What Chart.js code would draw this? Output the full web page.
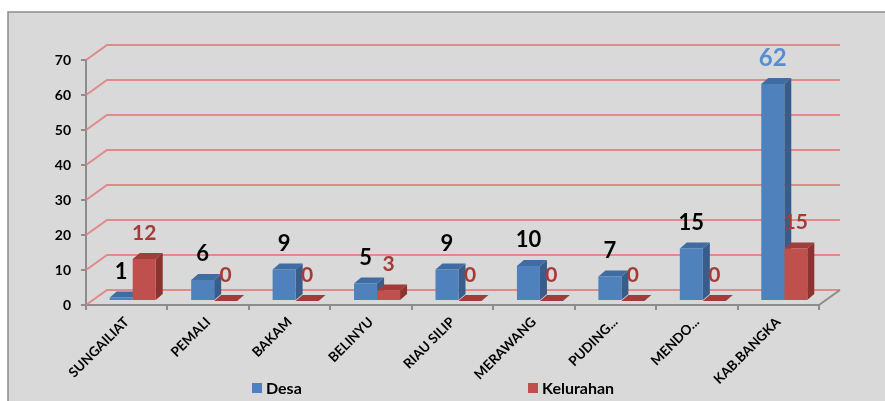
<!DOCTYPE html>
<html>
<head>
<meta charset="utf-8">
<script src="https://cdn.jsdelivr.net/npm/chart.js@4.4.0/dist/chart.umd.min.js"></script>
<style>
html,body{margin:0;padding:0;background:#fff;}
</style>
</head>
<body>
<canvas id="myChart" width="885" height="401"></canvas>
<script>
var kecamatan = ['SUNGAILIAT','PEMALI','BAKAM','BELINYU','RIAU SILIP','MERAWANG','PUDING...','MENDO...','KAB.BANGKA'];
var desa = [1, 6, 9, 5, 9, 10, 7, 15, 62];
var kelurahan = [12, 0, 0, 3, 0, 0, 0, 0, 15];
var seriesNames = ['Desa', 'Kelurahan'];
var yMin = 0, yMax = 70, yStep = 10;

var FONT = 'Lato, "Liberation Sans", sans-serif';
// depth of the bars and of the back wall
var DX = 7, DY = -6;
var SX = 6, SY = -4;
var WX = 21, WY = -15;

function poly(c, pts){
	c.beginPath();
	c.moveTo(pts[0][0], pts[0][1]);
	for(var i = 1; i < pts.length; i++) c.lineTo(pts[i][0], pts[i][1]);
	c.closePath();
	c.fill();
}

var background = {
	id: 'background',
	beforeDraw: function(chart){
		var c = chart.ctx;
		c.save();
		c.fillStyle = '#fff';
		c.fillRect(0, 0, chart.width, chart.height);
		c.fillStyle = '#d9d9d9';
		c.fillRect(8, 12, chart.width, chart.height);
		c.strokeStyle = '#8c8c8c';
		c.lineWidth = 1.5;
		c.beginPath();
		c.moveTo(8, chart.height); c.lineTo(8, 12); c.lineTo(chart.width, 12);
		c.stroke();
		c.restore();
	}
};

var wallAndFaces = {
	id: 'wallAndFaces',
	beforeDatasetsDraw: function(chart){
		var c = chart.ctx, y = chart.scales.y, a = chart.chartArea;
		c.save();
		c.strokeStyle = 'rgba(226,128,128,0.9)';
		c.lineWidth = 2;
		y.ticks.forEach(function(t){
			var py = y.getPixelForValue(t.value);
			c.beginPath();
			c.moveTo(a.left, py);
			c.lineTo(a.left + WX, py + WY);
			c.lineTo(a.right + WX, py + WY);
			c.stroke();
		});
		c.strokeStyle = '#8c8c8c';
		c.beginPath();
		c.moveTo(a.right, a.bottom);
		c.lineTo(a.right + WX, a.bottom + WY);
		c.stroke();

		// sides and tops of the bars, fronts are drawn by chart.js on top
		c.translate(SX, SY);
		chart.data.datasets.forEach(function(ds, k){
			chart.getDatasetMeta(k).data.forEach(function(bar){
				var l = bar.x - bar.width / 2, r = bar.x + bar.width / 2, t = bar.y, b = bar.base;
				c.fillStyle = ds.sideColor;
				poly(c, [[r, t], [r + DX, t + DY], [r + DX, b + DY], [r, b]]);
				c.fillStyle = ds.topColor;
				poly(c, [[l, t], [l + DX, t + DY], [r + DX, t + DY], [r, t]]);
			});
		});
		c.restore();
	},
	beforeDatasetDraw: function(chart){
		chart.ctx.save();
		chart.ctx.translate(SX, SY);
	},
	afterDatasetDraw: function(chart){
		chart.ctx.restore();
	},
	afterDatasetsDraw: function(chart){
		var c = chart.ctx;
		c.save();
		c.translate(SX, SY);
		c.textAlign = 'center';
		c.textBaseline = 'middle';
		chart.data.datasets.forEach(function(ds, k){
			chart.getDatasetMeta(k).data.forEach(function(bar, i){
				var big = ds.data[i] > 50;
				c.font = 'bold ' + (big ? 24 : ds.labelSize) + 'px ' + FONT;
				c.fillStyle = big ? '#558ed5' : ds.labelColor;
				c.fillText(String(ds.data[i]), bar.x, bar.y - 26);
			});
		});
		c.restore();
	}
};

var legendBoxes = {
	id: 'legendBoxes',
	afterDraw: function(chart){
		var c = chart.ctx;
		var xs = [252, 528];
		c.save();
		c.font = 'bold 16px ' + FONT;
		c.textBaseline = 'middle';
		chart.data.datasets.forEach(function(ds, k){
			c.fillStyle = ds.backgroundColor;
			c.fillRect(xs[k], 383, 10, 10);
			c.fillStyle = '#000';
			c.fillText(ds.label, xs[k] + 14, 389);
		});
		c.restore();
	}
};

var ctx = document.getElementById('myChart');

var barGraph = new Chart(ctx, {
	type: 'bar',
	data: {
		labels: kecamatan,
		datasets: [
			{
				label: seriesNames[0],
				data: desa,
				backgroundColor: '#4f81bd',
				sideColor: '#385d8a',
				topColor: '#3f6ca3',
				labelColor: '#000',
				labelSize: 22,
				borderWidth: 0
			},
			{
				label: seriesNames[1],
				data: kelurahan,
				backgroundColor: '#c0504d',
				sideColor: '#8c3330',
				topColor: '#a03d3a',
				labelColor: '#a33b38',
				labelSize: 21,
				borderWidth: 0
			}
		]
	},
	options: {
		responsive: false,
		animation: false,
		categoryPercentage: 0.565,
		barPercentage: 1,
		layout: { padding: { left: 0, right: 66, top: 60, bottom: 0 } },
		plugins: {
			legend: { display: false },
			tooltip: { enabled: false }
		},
		scales: {
			x: {
				grid: { display: true, drawOnChartArea: false, tickLength: 5, color: '#8c8c8c', lineWidth: 2 },
				border: { display: true, color: '#8c8c8c', width: 2 },
				ticks: { color: '#000', font: { family: FONT, size: 13.5, weight: 'bold' }, minRotation: 45, maxRotation: 45, padding: 4 },
				afterFit: function(scale){ scale.height = 96; }
			},
			y: {
				min: yMin,
				max: yMax,
				grid: { display: true, drawOnChartArea: false, tickLength: 5, color: '#8c8c8c', lineWidth: 2 },
				border: { display: true, color: '#8c8c8c', width: 2 },
				ticks: { stepSize: yStep, color: '#000', font: { family: FONT, size: 14, weight: 'bold' }, padding: 10 },
				afterFit: function(scale){ scale.width = 86; }
			}
		}
	},
	plugins: [background, wallAndFaces, legendBoxes]
});
</script>
</body>
</html>
